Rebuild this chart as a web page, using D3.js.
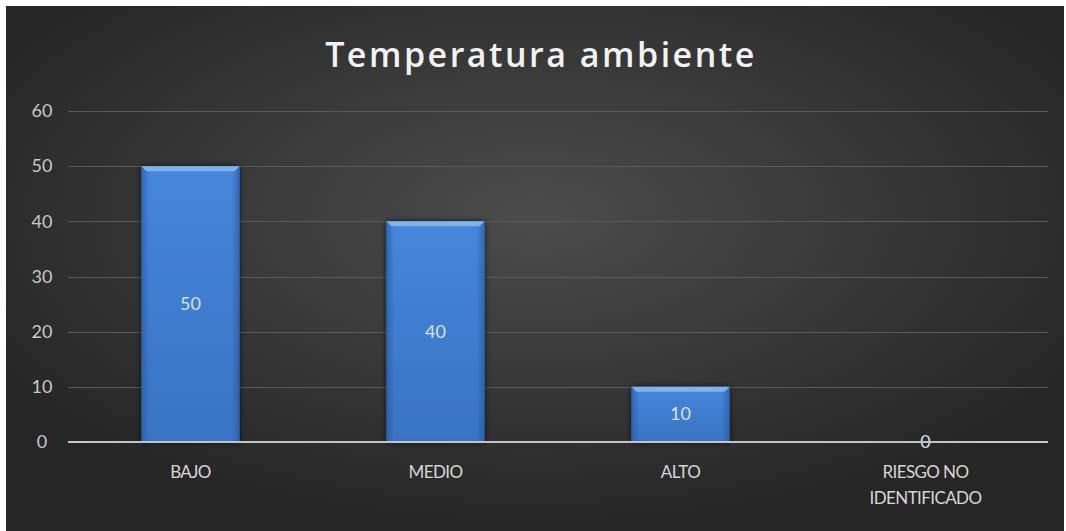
<!DOCTYPE html>
<html>
<head>
<meta charset="utf-8">
<script src="https://cdn.jsdelivr.net/npm/d3@7"></script>
<style>
  html, body { margin: 0; padding: 0; background: #ffffff; }
  svg { display: block; }
</style>
</head>
<body>
<script>
// Chart data
const categories = ["BAJO", "MEDIO", "ALTO", "RIESGO NO IDENTIFICADO"];
const categoryLines = [["BAJO"], ["MEDIO"], ["ALTO"], ["RIESGO NO", "IDENTIFICADO"]];
const values = [50, 40, 10, 0];
const yTicks = [0, 10, 20, 30, 40, 50, 60];
const title = "Temperatura ambiente";

const W = 1066, H = 531;
const svg = d3.select("body").append("svg").attr("width", W).attr("height", H);
const defs = svg.append("defs");

// Dark background with a soft lighter centre
const bg = defs.append("radialGradient").attr("id", "bgGrad")
  .attr("cx", "50%").attr("cy", "40%").attr("r", "60%");
bg.append("stop").attr("offset", "0%").attr("stop-color", "#4c4c4c");
bg.append("stop").attr("offset", "100%").attr("stop-color", "#262626");

const barGrad = defs.append("linearGradient").attr("id", "barGrad")
  .attr("x1", 0).attr("x2", 0).attr("y1", 0).attr("y2", 1);
barGrad.append("stop").attr("offset", "0%").attr("stop-color", "#4686da");
barGrad.append("stop").attr("offset", "100%").attr("stop-color", "#3a73c4");

const sideGrad = defs.append("linearGradient").attr("id", "sideGrad")
  .attr("x1", 0).attr("x2", 1).attr("y1", 0).attr("y2", 0);
sideGrad.append("stop").attr("offset", "0%").attr("stop-color", "#1f4f94").attr("stop-opacity", 0.55);
sideGrad.append("stop").attr("offset", "8%").attr("stop-color", "#1f4f94").attr("stop-opacity", 0);
sideGrad.append("stop").attr("offset", "92%").attr("stop-color", "#1f4f94").attr("stop-opacity", 0);
sideGrad.append("stop").attr("offset", "100%").attr("stop-color", "#1f4f94").attr("stop-opacity", 0.55);

const shadow = defs.append("filter").attr("id", "barShadow")
  .attr("x", "-20%").attr("y", "-10%").attr("width", "140%").attr("height", "120%");
shadow.append("feGaussianBlur").attr("in", "SourceAlpha").attr("stdDeviation", 3).attr("result", "b");
shadow.append("feOffset").attr("in", "b").attr("dx", 0).attr("dy", 0).attr("result", "o");
shadow.append("feComponentTransfer").attr("in", "o").attr("result", "s")
  .append("feFuncA").attr("type", "linear").attr("slope", 0.7);
const fm = shadow.append("feMerge");
fm.append("feMergeNode").attr("in", "s");
fm.append("feMergeNode").attr("in", "SourceGraphic");

svg.append("rect").attr("x", 6).attr("y", 6).attr("width", W - 8).attr("height", H - 6)
  .attr("fill", "url(#bgGrad)");

const plot = { left: 68, right: 1048, top: 111, bottom: 442 };

const x = d3.scaleBand().domain(categories).range([plot.left, plot.right]).paddingInner(0.6).paddingOuter(0.3);
const y = d3.scaleLinear().domain([0, 60]).range([plot.bottom, plot.top]);

// Title
svg.append("text").attr("x", 541).attr("y", 67).attr("text-anchor", "middle")
  .attr("font-family", "'Open Sans', sans-serif").attr("font-weight", 600)
  .attr("font-size", 34).attr("letter-spacing", 2.5).attr("fill", "#f2f2f2")
  .text(title);

// Gridlines
svg.append("g").selectAll("line").data(yTicks.filter(d => d > 0)).join("line")
  .attr("x1", plot.left).attr("x2", plot.right)
  .attr("y1", d => Math.round(y(d)) + 0.5).attr("y2", d => Math.round(y(d)) + 0.5)
  .attr("stroke", "#5a5a5a").attr("stroke-width", 1);

// Y axis labels
const yAxis = svg.append("g").attr("transform", `translate(${plot.left},0)`)
  .call(d3.axisLeft(y).tickValues(yTicks).tickSize(0).tickPadding(18));
yAxis.select(".domain").remove();
yAxis.selectAll("text").attr("font-family", "Lato, 'Open Sans', sans-serif")
  .attr("font-size", 18).attr("fill", "#c8c8c8").attr("text-anchor", "middle").attr("dx", -8);

// Bars
const bars = svg.append("g").selectAll("g").data(values.map((v, i) => ({ c: categories[i], v })))
  .join("g");
bars.append("rect")
  .attr("x", d => x(d.c)).attr("width", x.bandwidth())
  .attr("y", d => y(d.v)).attr("height", d => y(0) - y(d.v))
  .attr("fill", "url(#barGrad)").attr("filter", "url(#barShadow)");
bars.append("rect")
  .attr("x", d => x(d.c)).attr("width", x.bandwidth())
  .attr("y", d => y(d.v)).attr("height", d => y(0) - y(d.v))
  .attr("fill", "url(#sideGrad)");
// Bevelled top edge
bars.filter(d => d.v > 0).append("path")
  .attr("d", d => {
    const x0 = x(d.c), x1 = x0 + x.bandwidth(), t = y(d.v), b = 5;
    return `M${x0},${t}L${x1},${t}L${x1 - b},${t + b}L${x0 + b},${t + b}Z`;
  })
  .attr("fill", "#7fb3ee");

// Value labels
bars.append("text")
  .attr("x", d => x(d.c) + x.bandwidth() / 2)
  .attr("y", d => (y(d.v) + y(0)) / 2 + 6)
  .attr("text-anchor", "middle")
  .attr("font-family", "Lato, 'Open Sans', sans-serif").attr("font-size", 18)
  .attr("fill", "#d4e2f4")
  .text(d => d.v);

// Baseline
svg.append("line").attr("x1", plot.left).attr("x2", plot.right)
  .attr("y1", y(0)).attr("y2", y(0))
  .attr("stroke", "#c4c4c4").attr("stroke-width", 2);

// Category labels
const xl = svg.append("g").selectAll("text").data(categories).join("text")
  .attr("x", d => x(d) + x.bandwidth() / 2)
  .attr("y", 478)
  .attr("text-anchor", "middle")
  .attr("font-family", "Lato, 'Open Sans', sans-serif").attr("font-size", 17)
  .attr("letter-spacing", -0.6)
  .attr("fill", "#d6d6d6");
xl.each(function (d, i) {
  d3.select(this).selectAll("tspan").data(categoryLines[i]).join("tspan")
    .attr("x", x(d) + x.bandwidth() / 2)
    .attr("dy", (t, j) => j === 0 ? 0 : 26)
    .text(t => t);
});
</script>
</body>
</html>
